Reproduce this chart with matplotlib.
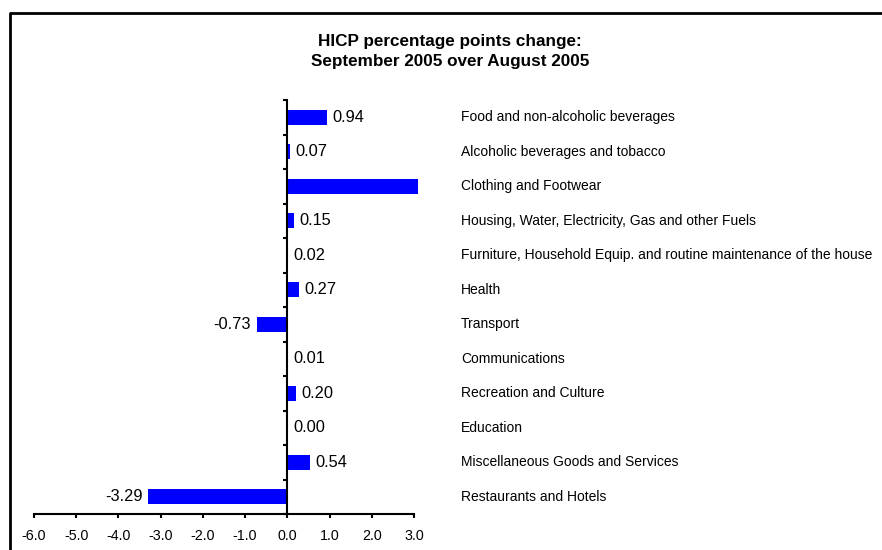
import matplotlib.pyplot as plt
from matplotlib.lines import Line2D
from matplotlib.transforms import blended_transform_factory

categories = [
    'Food and non-alcoholic beverages',
    'Alcoholic beverages and tobacco',
    'Clothing and Footwear',
    'Housing, Water, Electricity, Gas and other Fuels',
    'Furniture, Household Equip. and routine maintenance of the house',
    'Health',
    'Transport',
    'Communications',
    'Recreation and Culture',
    'Education',
    'Miscellaneous Goods and Services',
    'Restaurants and Hotels',
]
values = [0.94, 0.07, 3.10, 0.15, 0.02, 0.27, -0.73, 0.01, 0.20, 0.00, 0.54, -3.29]
x_ticks = [-6.0, -5.0, -4.0, -3.0, -2.0, -1.0, 0.0, 1.0, 2.0, 3.0]

plt.rcParams['font.family'] = ['Liberation Sans', 'DejaVu Sans']

fig = plt.figure(figsize=(8.82, 5.5), dpi=100)
ax = fig.add_axes([34 / 882, 1 - 514 / 550, (414 - 34) / 882, (514 - 100) / 550])

y = range(len(categories))
bars = ax.barh(list(y), values, height=0.44, color='#0000ff')
for b in bars:
    b.set_clip_on(False)

ax.set_xlim(-6, 3)
ax.set_ylim(len(categories) - 0.5, -0.5)

# spines: y axis sits at zero
ax.spines['top'].set_visible(False)
ax.spines['right'].set_visible(False)
ax.spines['left'].set_position(('data', 0))
ax.spines['left'].set_linewidth(1.5)
ax.spines['bottom'].set_linewidth(1.5)

ax.set_yticks([k - 0.5 for k in range(len(categories) + 1)])
ax.set_yticklabels([])
ax.tick_params(axis='y', direction='out', length=3, width=1.5)
ax.set_xticks(x_ticks)
ax.set_xticklabels([f'{t:.1f}' for t in x_ticks], fontsize=10.3)
ax.tick_params(axis='x', direction='out', length=3, width=1.5, pad=8)

# value labels
for i, v in enumerate(values):
    if v > 3.0:
        continue
    if v < 0:
        ax.annotate(f'{v:.2f}', (v, i), xytext=(-4, 0), textcoords='offset points',
                    ha='right', va='center', fontsize=11.8)
    else:
        ax.annotate(f'{v:.2f}', (v, i), xytext=(4, 0), textcoords='offset points',
                    ha='left', va='center', fontsize=11.8)

# category names on the right
trans = blended_transform_factory(fig.transFigure, ax.transData)
for i, name in enumerate(categories):
    ax.text(461 / 882, i, name, transform=trans, ha='left', va='center',
            fontsize=10, clip_on=False)

fig.text(450 / 882, 1 - 51.5 / 550, 'HICP percentage points change:\nSeptember 2005 over August 2005',
         ha='center', va='center', fontsize=12.3, fontweight='bold', linespacing=1.45)

# outer frame (only left and top visible)
fig.add_artist(Line2D([10 / 882, 10 / 882, 1], [0, 1 - 13 / 550, 1 - 13 / 550],
                      transform=fig.transFigure, color='black', linewidth=2))

fig.savefig('out.png', dpi=100)
